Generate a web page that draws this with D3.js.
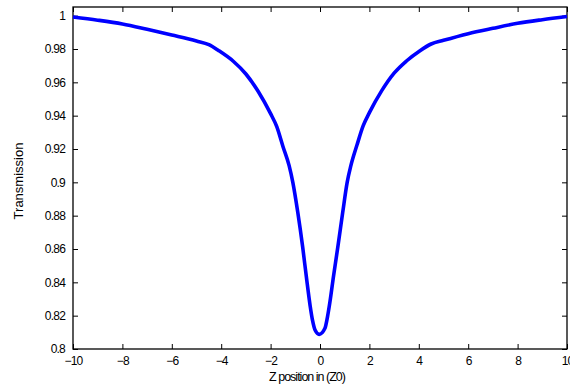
<!DOCTYPE html>
<html>
<head>
<meta charset="utf-8">
<script src="https://cdn.jsdelivr.net/npm/d3@7"></script>
<style>
  html, body { margin: 0; padding: 0; background: #fff; }
  svg { display: block; }
  .tick text { font-family: "Liberation Sans", Arial, sans-serif; font-size: 12px; letter-spacing: -0.8px; fill: #000; }
</style>
</head>
<body>
<svg id="chart" width="570" height="385"></svg>
<script>
// Z-scan transmission profile
const zPos = [-10, -9, -8, -7, -6, -5, -4.5, -4.1, -3.5, -3, -2.5, -2, -1.75, -1.5, -1.25, -1.1, -0.9, -0.7, -0.55, -0.4, -0.3, -0.2, -0.03, 0.2, 0.3, 0.4, 0.55, 0.72, 0.92, 1.1, 1.25, 1.5, 1.75, 2, 2.5, 3, 3.5, 4.05, 4.5, 5, 6, 7, 8, 9, 10];
const transmission = [0.9992, 0.9973, 0.9950, 0.9918, 0.9884, 0.9848, 0.9826, 0.9790, 0.9725, 0.9650, 0.9545, 0.9412, 0.9334, 0.9215, 0.9100, 0.9000, 0.8820, 0.8610, 0.8430, 0.8260, 0.8170, 0.8114, 0.8088, 0.8124, 0.8190, 0.8280, 0.8440, 0.8610, 0.8820, 0.9000, 0.9100, 0.9225, 0.9340, 0.9418, 0.9550, 0.9655, 0.9728, 0.9790, 0.9830, 0.9852, 0.9892, 0.9924, 0.9954, 0.9976, 0.9995];

const xTicks = [-10, -8, -6, -4, -2, 0, 2, 4, 6, 8, 10];
const yTicks = [0.8, 0.82, 0.84, 0.86, 0.88, 0.9, 0.92, 0.94, 0.96, 0.98, 1];
const yTickLabels = ["0.8", "0.82", "0.84", "0.86", "0.88", "0.9", "0.92", "0.94", "0.96", "0.98", "1"];

const svg = d3.select("#chart");
const L = 73, R = 567, T = 7, B = 349;

const x = d3.scaleLinear().domain([-10, 10]).range([L, R]);
const y = d3.scaleLinear().domain([0.8, 1.0052]).range([B, T]);

// bottom axis with labels, inward ticks
const gx = svg.append("g").attr("transform", `translate(0,${B})`)
  .call(d3.axisBottom(x).tickValues(xTicks).tickSize(-5).tickPadding(9).tickFormat(d3.format("d")));
// top axis, ticks only
const gxt = svg.append("g").attr("transform", `translate(0,${T})`)
  .call(d3.axisTop(x).tickValues(xTicks).tickSize(-5).tickFormat(""));
// left axis with labels
const gy = svg.append("g").attr("transform", `translate(${L},0)`)
  .call(d3.axisLeft(y).tickValues(yTicks).tickSize(-5).tickPadding(8)
    .tickFormat((d, i) => yTickLabels[i]));
// right axis, ticks only
const gyr = svg.append("g").attr("transform", `translate(${R},0)`)
  .call(d3.axisRight(y).tickValues(yTicks).tickSize(-5).tickFormat(""));

[gx, gxt, gy, gyr].forEach(g => {
  g.select(".domain").remove();
  g.selectAll(".tick line").attr("stroke", "#000").attr("stroke-width", 1);
});
gx.selectAll(".tick text").attr("dy", "0.55em");

// frame
svg.append("rect")
  .attr("x", L).attr("y", T).attr("width", R - L).attr("height", B - T)
  .attr("fill", "none").attr("stroke", "#000").attr("stroke-width", 1.3);

// curve
const line = d3.line()
  .x((d, i) => x(zPos[i]))
  .y(d => y(d))
  .curve(d3.curveMonotoneX);
svg.append("path")
  .datum(transmission)
  .attr("d", line)
  .attr("fill", "none")
  .attr("stroke", "#0000ff")
  .attr("stroke-width", 3.6)
  .attr("stroke-linejoin", "miter");

// axis titles
svg.append("text")
  .attr("x", 307).attr("y", 381)
  .attr("text-anchor", "middle")
  .style("font-family", "Liberation Sans, Arial, sans-serif")
  .style("font-size", "12.5px")
  .style("letter-spacing", "-1px")
  .text("Z position in (Z0)");

svg.append("text")
  .attr("transform", "translate(23,181) rotate(-90)")
  .attr("text-anchor", "middle")
  .style("font-family", "Liberation Sans, Arial, sans-serif")
  .style("font-size", "13px")
  .text("Transmission");
</script>
</body>
</html>
